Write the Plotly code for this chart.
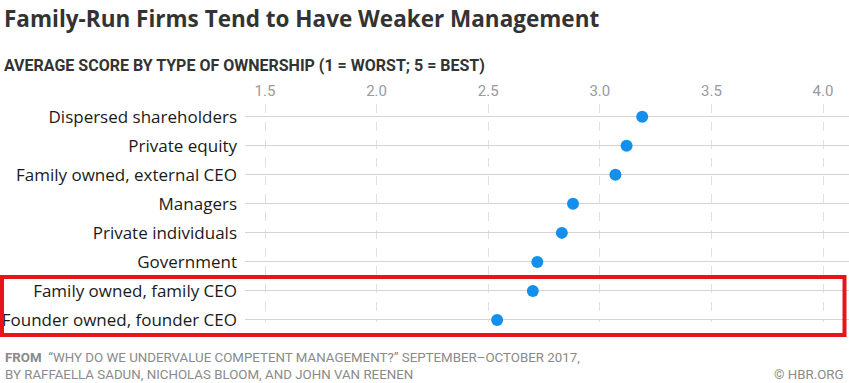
import plotly.graph_objects as go

categories = [
    "Dispersed shareholders",
    "Private equity",
    "Family owned, external CEO",
    "Managers",
    "Private individuals",
    "Government",
    "Family owned, family CEO",
    "Founder owned, founder CEO",
]
scores = [3.19, 3.12, 3.07, 2.88, 2.83, 2.72, 2.70, 2.54]
tick_values = [1.5, 2.0, 2.5, 3.0, 3.5, 4.0]
tick_labels = ["1.5", "2.0", "2.5", "3.0", "3.5", "4.0"]

W, H = 849, 383
L, R, T, B = 245, 0, 104, 61

fig = go.Figure()
fig.add_trace(go.Scatter(
    x=scores, y=categories, mode="markers", cliponaxis=False,
    marker=dict(size=12, color="#1490EC", line=dict(width=0)),
    hoverinfo="x+y", showlegend=False,
))

fig.update_layout(
    width=W, height=H,
    margin=dict(l=L, r=R, t=T, b=B, pad=0),
    paper_bgcolor="white", plot_bgcolor="white",
    font=dict(family="Roboto, Open Sans, sans-serif", color="#222"),
    xaxis=dict(
        range=[1.4104, 4.1165], side="top",
        tickvals=tick_values, ticktext=tick_labels,
        showgrid=True, gridcolor="#e0e0e0", griddash="dash", gridwidth=1,
        zeroline=False, showline=False, ticks="",
        tickfont=dict(family="Roboto", size=15, color="#9a9a9a"),
        ticklabelstandoff=4,
    ),
    yaxis=dict(
        categoryorder="array", categoryarray=categories,
        range=[7.07, -0.44],
        showgrid=True, gridcolor="#d4d4d4", gridwidth=1,
        zeroline=False, showline=False, ticks="",
        tickfont=dict(family="Open Sans", size=17, color="#1a1a1a"),
        ticklabelstandoff=7,
    ),
)

# red highlight box
fig.add_shape(
    type="rect", xref="paper", yref="paper",
    x0=(2 - L) / (W - L - R), x1=(844.5 - L) / (W - L - R),
    y0=(H - B - 335) / (H - T - B), y1=(H - B - 277) / (H - T - B),
    line=dict(color="#E8141B", width=4), fillcolor="rgba(0,0,0,0)", layer="above",
)

def px_x(x):
    return (x - L) / (W - L - R)

def px_y(y):
    return (H - B - y) / (H - T - B)

fig.add_annotation(
    text="<b>Family-Run Firms Tend to Have Weaker Management</b>",
    xref="paper", yref="paper", x=px_x(2), y=px_y(1), xanchor="left", yanchor="top",
    showarrow=False, font=dict(family="Open Sans", size=22.5, color="#333333", weight=800),
)
fig.add_annotation(
    text="<b>AVERAGE SCORE BY TYPE OF OWNERSHIP (1 = WORST; 5 = BEST)</b>",
    xref="paper", yref="paper", x=px_x(2), y=px_y(65), xanchor="left", yanchor="middle",
    showarrow=False, font=dict(family="Roboto", size=16, color="#333333"),
)
fig.add_annotation(
    text="<b>FROM</b>  “WHY DO WE UNDERVALUE COMPETENT MANAGEMENT?” SEPTEMBER–OCTOBER 2017,<br>BY RAFFAELLA SADUN, NICHOLAS BLOOM, AND JOHN VAN REENEN",
    xref="paper", yref="paper", x=px_x(3), y=px_y(366), xanchor="left", yanchor="middle",
    align="left", showarrow=False, font=dict(family="Roboto", size=13.3, color="#8a8a8a"),
)
fig.add_annotation(
    text="© HBR.ORG",
    xref="paper", yref="paper", x=px_x(846), y=px_y(374), xanchor="right", yanchor="middle",
    showarrow=False, font=dict(family="Roboto", size=13.3, color="#8a8a8a"),
)

fig.write_html(
    "out.html",
    config={"displayModeBar": False},
    post_script="document.body.style.margin='0';document.body.style.padding='0';",
)
